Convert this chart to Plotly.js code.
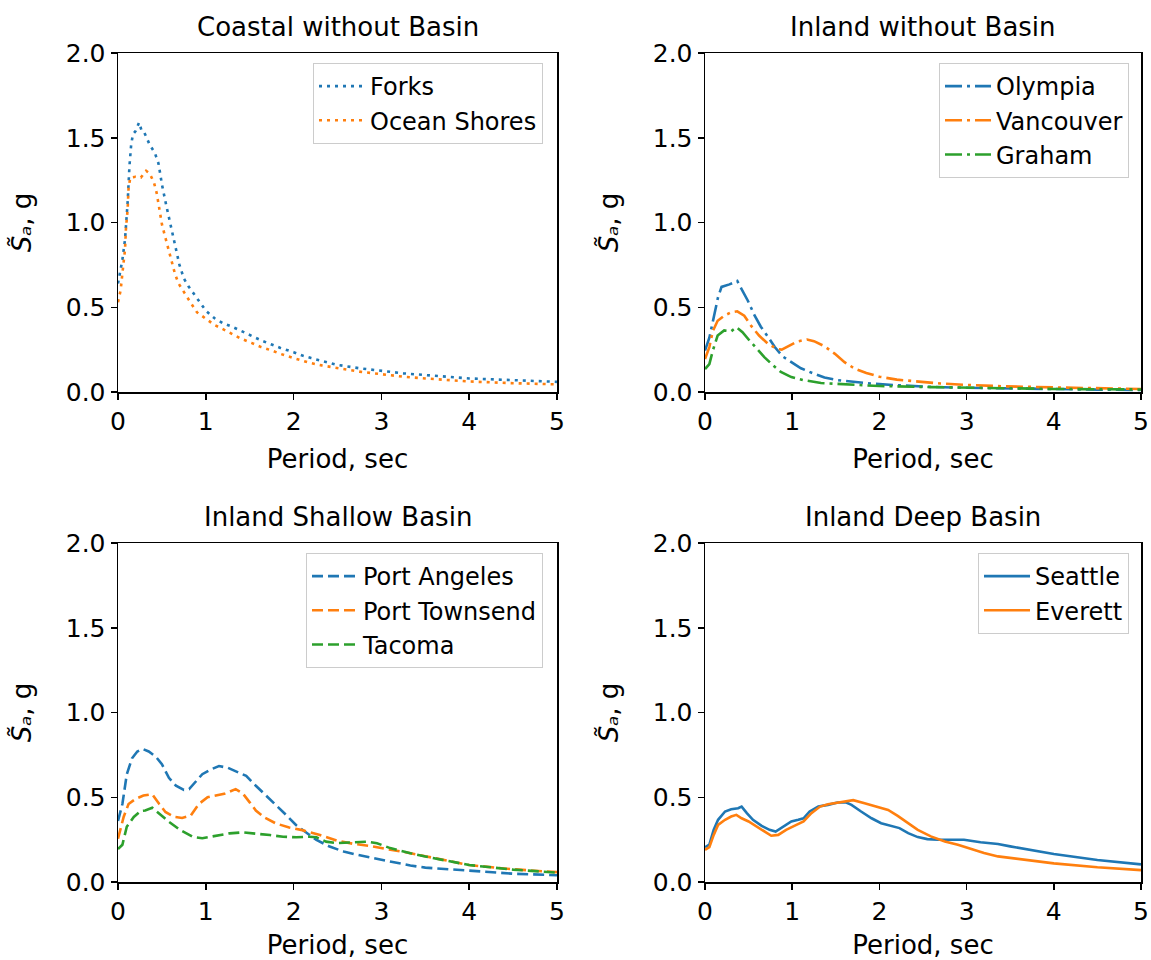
<!DOCTYPE html>
<html>
<head>
<meta charset="utf-8">
<script src="https://cdn.plot.ly/plotly-3.0.1.min.js"></script>
<style>html,body{margin:0;padding:0;background:#fff;}#chart{width:1151px;height:960px;}</style>
</head>
<body>
<div id="chart"></div>
<script>
// ---- Data (period in sec, Sa in g) ----
const panelTitles = ["Coastal without Basin", "Inland without Basin", "Inland Shallow Basin", "Inland Deep Basin"];
const xTicks = [0, 1, 2, 3, 4, 5];
const yTicks = [0.0, 0.5, 1.0, 1.5, 2.0];

// Coastal without Basin
const forksX = [0, 0.05, 0.08, 0.11, 0.13, 0.15, 0.17, 0.2, 0.24, 0.27, 0.3, 0.36, 0.42, 0.46, 0.48, 0.5, 0.55, 0.6, 0.65, 0.7, 0.75, 0.8, 0.87, 0.93, 1.0, 1.1, 1.2, 1.3, 1.4, 1.5, 1.65, 1.75, 1.85, 2.0, 2.1, 2.2, 2.35, 2.5, 2.75, 3.0, 3.25, 3.5, 3.75, 4.0, 4.5, 5.0];
const forksY = [0.64, 0.78, 0.9, 1.12, 1.33, 1.46, 1.52, 1.54, 1.59, 1.54, 1.53, 1.46, 1.41, 1.35, 1.29, 1.225, 1.10, 0.98, 0.86, 0.75, 0.67, 0.625, 0.575, 0.53, 0.48, 0.435, 0.405, 0.385, 0.36, 0.335, 0.30, 0.28, 0.26, 0.235, 0.215, 0.20, 0.18, 0.16, 0.14, 0.125, 0.11, 0.10, 0.09, 0.08, 0.07, 0.06];
const oceanX = [0, 0.03, 0.05, 0.08, 0.09, 0.11, 0.12, 0.14, 0.2, 0.26, 0.32, 0.36, 0.41, 0.44, 0.46, 0.48, 0.5, 0.53, 0.56, 0.59, 0.62, 0.65, 0.69, 0.76, 0.83, 0.9, 1.0, 1.1, 1.2, 1.3, 1.4, 1.52, 1.63, 1.75, 1.85, 2.0, 2.1, 2.2, 2.32, 2.5, 2.75, 3.0, 3.25, 3.5, 3.75, 4.0, 4.5, 5.0];
const oceanY = [0.53, 0.6, 0.7, 0.84, 0.96, 1.08, 1.2, 1.265, 1.27, 1.265, 1.305, 1.29, 1.235, 1.175, 1.115, 1.05, 0.99, 0.93, 0.875, 0.815, 0.755, 0.695, 0.64, 0.58, 0.525, 0.47, 0.43, 0.395, 0.37, 0.34, 0.315, 0.29, 0.265, 0.245, 0.225, 0.20, 0.185, 0.17, 0.157, 0.14, 0.12, 0.105, 0.09, 0.08, 0.07, 0.062, 0.052, 0.045];

// Inland without Basin
const olympiaX = [0, 0.05, 0.1, 0.15, 0.19, 0.28, 0.37, 0.43, 0.49, 0.57, 0.64, 0.73, 0.8, 0.89, 1.0, 1.1, 1.24, 1.37, 1.52, 1.7, 1.9, 2.2, 2.6, 3.0, 3.5, 4.0, 4.5, 5.0];
const olympiaY = [0.245, 0.32, 0.44, 0.56, 0.62, 0.635, 0.655, 0.60, 0.54, 0.45, 0.385, 0.32, 0.265, 0.21, 0.175, 0.14, 0.11, 0.085, 0.07, 0.06, 0.05, 0.04, 0.03, 0.025, 0.02, 0.017, 0.014, 0.012];
const vancouverX = [0, 0.05, 0.09, 0.145, 0.22, 0.3, 0.37, 0.45, 0.53, 0.62, 0.72, 0.82, 0.88, 0.97, 1.06, 1.17, 1.25, 1.37, 1.49, 1.6, 1.72, 1.85, 2.0, 2.2, 2.45, 2.7, 3.0, 3.4, 4.0, 4.5, 5.0];
const vancouverY = [0.195, 0.265, 0.36, 0.42, 0.45, 0.47, 0.476, 0.45, 0.39, 0.333, 0.285, 0.255, 0.25, 0.275, 0.298, 0.31, 0.30, 0.27, 0.225, 0.176, 0.137, 0.112, 0.09, 0.073, 0.06, 0.05, 0.042, 0.034, 0.027, 0.022, 0.018];
const grahamX = [0, 0.05, 0.09, 0.145, 0.22, 0.3, 0.36, 0.43, 0.51, 0.59, 0.68, 0.78, 0.87, 0.99, 1.14, 1.33, 1.64, 2.0, 2.6, 3.0, 4.0, 5.0];
const grahamY = [0.135, 0.165, 0.245, 0.333, 0.363, 0.358, 0.382, 0.353, 0.304, 0.255, 0.206, 0.157, 0.118, 0.088, 0.069, 0.053, 0.045, 0.035, 0.029, 0.025, 0.018, 0.015];

// Inland Shallow Basin
const portAngelesX = [0, 0.05, 0.1, 0.16, 0.22, 0.28, 0.35, 0.43, 0.5, 0.58, 0.66, 0.75, 0.81, 0.89, 0.96, 1.06, 1.15, 1.25, 1.34, 1.46, 1.57, 1.69, 1.8, 1.92, 2.03, 2.15, 2.26, 2.41, 2.57, 2.72, 2.95, 3.14, 3.33, 3.5, 4.0, 4.5, 5.0];
const portAngelesY = [0.36, 0.46, 0.635, 0.73, 0.77, 0.785, 0.77, 0.74, 0.695, 0.615, 0.568, 0.543, 0.548, 0.597, 0.636, 0.665, 0.684, 0.674, 0.655, 0.626, 0.568, 0.51, 0.452, 0.393, 0.335, 0.287, 0.248, 0.209, 0.18, 0.161, 0.136, 0.116, 0.097, 0.085, 0.065, 0.049, 0.04];
const portTownsendX = [0, 0.065, 0.12, 0.2, 0.29, 0.39, 0.47, 0.54, 0.64, 0.73, 0.83, 0.92, 1.02, 1.12, 1.21, 1.34, 1.42, 1.5, 1.57, 1.67, 1.8, 1.95, 2.1, 2.3, 2.49, 2.68, 2.87, 3.06, 3.25, 3.5, 4.0, 4.5, 5.0];
const portTownsendY = [0.255, 0.385, 0.46, 0.49, 0.51, 0.518, 0.46, 0.413, 0.384, 0.378, 0.393, 0.46, 0.50, 0.51, 0.52, 0.548, 0.523, 0.47, 0.422, 0.38, 0.345, 0.322, 0.306, 0.277, 0.245, 0.225, 0.213, 0.194, 0.178, 0.152, 0.10, 0.075, 0.058];
const tacomaX = [0, 0.05, 0.1, 0.18, 0.26, 0.31, 0.39, 0.47, 0.58, 0.71, 0.85, 0.96, 1.12, 1.27, 1.42, 1.57, 1.73, 1.88, 2.03, 2.18, 2.26, 2.37, 2.49, 2.64, 2.83, 2.95, 3.1, 3.33, 3.5, 4.0, 4.5, 5.0];
const tacomaY = [0.195, 0.22, 0.326, 0.384, 0.419, 0.422, 0.438, 0.403, 0.355, 0.306, 0.267, 0.258, 0.271, 0.287, 0.293, 0.287, 0.277, 0.267, 0.264, 0.267, 0.264, 0.238, 0.229, 0.233, 0.238, 0.229, 0.20, 0.17, 0.15, 0.10, 0.073, 0.055];

// Inland Deep Basin
const seattleX = [0, 0.05, 0.1, 0.15, 0.23, 0.3, 0.38, 0.42, 0.48, 0.55, 0.65, 0.74, 0.81, 0.9, 0.99, 1.07, 1.13, 1.2, 1.3, 1.41, 1.52, 1.62, 1.68, 1.79, 1.91, 2.02, 2.13, 2.23, 2.33, 2.44, 2.55, 2.67, 2.82, 2.97, 3.16, 3.36, 3.5, 4.0, 4.5, 5.0];
const seattleY = [0.205, 0.22, 0.308, 0.367, 0.416, 0.429, 0.435, 0.445, 0.406, 0.367, 0.331, 0.308, 0.298, 0.327, 0.357, 0.367, 0.376, 0.416, 0.445, 0.455, 0.469, 0.469, 0.455, 0.416, 0.376, 0.347, 0.331, 0.318, 0.288, 0.265, 0.253, 0.249, 0.249, 0.249, 0.235, 0.224, 0.21, 0.165, 0.13, 0.104];
const everettX = [0, 0.05, 0.1, 0.15, 0.23, 0.3, 0.36, 0.42, 0.5, 0.59, 0.69, 0.76, 0.84, 0.93, 1.03, 1.13, 1.22, 1.32, 1.41, 1.53, 1.64, 1.7, 1.83, 1.96, 2.1, 2.21, 2.33, 2.44, 2.59, 2.75, 2.9, 3.05, 3.2, 3.36, 3.5, 3.75, 4.0, 4.5, 5.0];
const everettY = [0.19, 0.206, 0.278, 0.337, 0.367, 0.386, 0.396, 0.376, 0.357, 0.327, 0.292, 0.273, 0.278, 0.308, 0.333, 0.357, 0.406, 0.445, 0.459, 0.469, 0.48, 0.483, 0.465, 0.445, 0.425, 0.39, 0.347, 0.308, 0.269, 0.239, 0.22, 0.194, 0.171, 0.151, 0.142, 0.125, 0.11, 0.087, 0.07];

// ---- Styling ----
const C = {blue: "#1f77b4", orange: "#ff7f0e", green: "#2ca02c"};
const LW = 2.6;
const DOT = "3px,5px";
const DASHDOT = "17px,5px,3px,5px";
const DASH = "11px,5px";
const FONT = "DejaVu Sans, sans-serif";
const yTitle = "<i>S\u0303\u2090</i>, g";

function tr(name, x, y, color, dash, ax, leg) {
  return {
    type: "scatter", mode: "lines", name: name, x: x, y: y,
    xaxis: "x" + ax, yaxis: "y" + ax, legend: leg, legendgroup: name,
    line: {color: color, width: LW, dash: dash, shape: "linear"}
  };
}

const data = [
  tr("Forks", forksX, forksY, C.blue, DOT, "", "legend"),
  tr("Ocean Shores", oceanX, oceanY, C.orange, DOT, "", "legend"),
  tr("Olympia", olympiaX, olympiaY, C.blue, DASHDOT, "2", "legend2"),
  tr("Vancouver", vancouverX, vancouverY, C.orange, DASHDOT, "2", "legend2"),
  tr("Graham", grahamX, grahamY, C.green, DASHDOT, "2", "legend2"),
  tr("Port Angeles", portAngelesX, portAngelesY, C.blue, DASH, "3", "legend3"),
  tr("Port Townsend", portTownsendX, portTownsendY, C.orange, DASH, "3", "legend3"),
  tr("Tacoma", tacomaX, tacomaY, C.green, DASH, "3", "legend3"),
  tr("Seattle", seattleX, seattleY, C.blue, "solid", "4", "legend4"),
  tr("Everett", everettX, everettY, C.orange, "solid", "4", "legend4")
];

const W = 1151, H = 960;
const colX = [[118 / W, 557 / W], [705 / W, 1141 / W]];
const rowY = [[1 - 392 / H, 1 - 53 / H], [1 - 882 / H, 1 - 543 / H]];

function xa(col, row) {
  return {
    domain: colX[col], anchor: "y" + (row * 2 + col === 0 ? "" : (row * 2 + col + 1)),
    range: [0, 5], tickvals: xTicks, ticktext: xTicks.map(String),
    ticks: "outside", ticklen: 6, tickwidth: 1.5, tickcolor: "#000",
    showline: true, mirror: true, linecolor: "#000", linewidth: 1.5,
    showgrid: false, zeroline: false,
    tickfont: {family: FONT, size: 25, color: "#000"},
    title: {text: "Period, sec", font: {family: FONT, size: 26, color: "#000"}, standoff: 15},
    automargin: false
  };
}
function ya(col, row) {
  return {
    domain: rowY[row], anchor: "x" + (row * 2 + col === 0 ? "" : (row * 2 + col + 1)),
    range: [0, 2], tickvals: yTicks, ticktext: yTicks.map(v => v.toFixed(1)),
    ticks: "outside", ticklen: 6, tickwidth: 1.5, tickcolor: "#000",
    showline: true, mirror: true, linecolor: "#000", linewidth: 1.5,
    showgrid: false, zeroline: false,
    tickfont: {family: FONT, size: 25, color: "#000"},
    title: {text: yTitle, font: {family: FONT, size: 26, color: "#000"}, standoff: 26},
    automargin: false
  };
}

function leg(xRight, yTop) {
  return {
    x: xRight / W, y: 1 - yTop / H, xanchor: "right", yanchor: "top",
    xref: "paper", yref: "paper",
    bgcolor: "rgba(255,255,255,0.85)", bordercolor: "#cccccc", borderwidth: 1,
    font: {family: FONT, size: 24, color: "#000"},
    itemwidth: 46, tracegroupgap: 8, traceorder: "normal"
  };
}

const titleAnn = [
  [337.5 / W, 1 - 27 / H], [923 / W, 1 - 27 / H],
  [337.5 / W, 1 - 517 / H], [923 / W, 1 - 517 / H]
].map((p, i) => ({
  text: panelTitles[i], x: p[0], y: p[1], xref: "paper", yref: "paper",
  xanchor: "center", yanchor: "middle", showarrow: false,
  font: {family: FONT, size: 26, color: "#000"}
}));

const layout = {
  width: W, height: H,
  margin: {l: 0, r: 0, t: 0, b: 0},
  paper_bgcolor: "#fff", plot_bgcolor: "#fff",
  font: {family: FONT, color: "#000"},
  showlegend: true,
  xaxis: xa(0, 0), yaxis: ya(0, 0),
  xaxis2: xa(1, 0), yaxis2: ya(1, 0),
  xaxis3: xa(0, 1), yaxis3: ya(0, 1),
  xaxis4: xa(1, 1), yaxis4: ya(1, 1),
  legend: leg(543, 63),
  legend2: leg(1129, 63),
  legend3: leg(543, 553),
  legend4: leg(1129, 553),
  annotations: titleAnn
};

Plotly.newPlot("chart", data, layout, {staticPlot: true, displayModeBar: false});
</script>
</body>
</html>
